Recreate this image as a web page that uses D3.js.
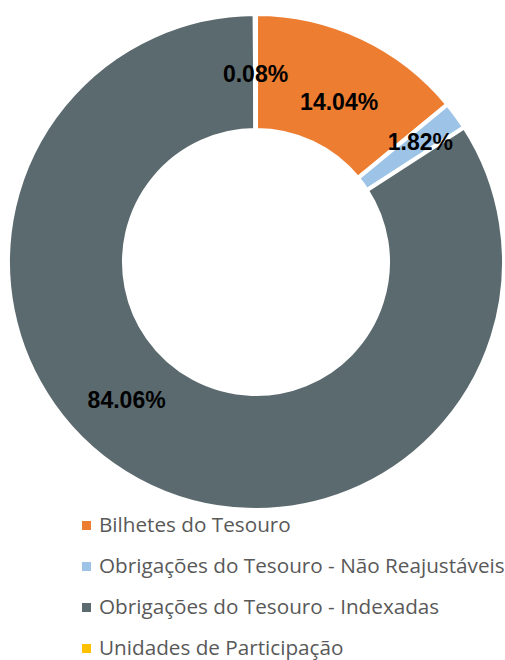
<!DOCTYPE html>
<html>
<head>
<meta charset="utf-8">
<script src="https://cdnjs.cloudflare.com/ajax/libs/d3/7.8.5/d3.min.js"></script>
<style>
  body { margin: 0; background: #fff; }
</style>
</head>
<body>
<div id="chart"></div>
<script>
// data
var categories = ["Bilhetes do Tesouro", "Obrigações do Tesouro - Não Reajustáveis", "Obrigações do Tesouro - Indexadas", "Unidades de Participação"];
var shares     = [14.04, 1.82, 84.06, 0.08];
var palette    = ["#ED7D31", "#9DC3E6", "#5B6A6F", "#FFC000"];

var width  = 505,
    height = 660,
    cx     = 256,
    cy     = 262,
    outerR = 248,
    innerR = 132;

// Excel had the labels dragged around a bit, so nudge them off the centroid
var labelNudge = [[2, 12], [11, -8], [-39, -29], [0, 2]];

var svg = d3.select("#chart")
    .append("svg")
    .attr("width", width)
    .attr("height", height);

var group = svg.append("g")
    .attr("transform", "translate(" + cx + "," + cy + ")");

var color = d3.scaleOrdinal().domain(categories).range(palette);

var pie = d3.pie()
    .sort(null)
    .value((d, i) => shares[i]);

var arc = d3.arc()
    .innerRadius(innerR)
    .outerRadius(outerR);

var slices = pie(categories);

group.selectAll(".arc")
    .data(slices)
    .enter()
    .append("path")
    .attr("class", "arc")
    .attr("d", arc)
    .attr("fill", d => color(d.data))
    .attr("stroke", "#fff")
    .attr("stroke-width", 4)
    .attr("stroke-linejoin", "miter");

// labels go in their own layer so no slice paints over them
group.selectAll(".label")
    .data(slices)
    .enter()
    .append("text")
    .attr("class", "label")
    .attr("transform", (d, i) => {
        var c = arc.centroid(d);
        return "translate(" + (c[0] + labelNudge[i][0]) + "," + (c[1] + labelNudge[i][1]) + ")";
    })
    .attr("text-anchor", "middle")
    .attr("dy", "0.36em")
    .attr("font-family", "'Liberation Sans', Arial, sans-serif")
    .attr("font-weight", "bold")
    .attr("font-size", "23px")
    .attr("fill", "#000")
    .text((d, i) => d3.format(".2f")(shares[i]) + "%");

// legend
var legend = svg.append("g")
    .attr("transform", "translate(82,532)");

var rows = legend.selectAll(".row")
    .data(categories)
    .enter()
    .append("g")
    .attr("class", "row")
    .attr("transform", (d, i) => "translate(0," + (i * 41) + ")");

rows.append("rect")
    .attr("x", 0)
    .attr("y", -11)
    .attr("width", 9)
    .attr("height", 9)
    .attr("fill", d => color(d));

rows.append("text")
    .attr("x", 17)
    .attr("y", 0)
    .attr("font-family", "'Open Sans', sans-serif")
    .attr("font-size", "20.7px")
    .attr("fill", "#595959")
    .text(d => d);
</script>
</body>
</html>
